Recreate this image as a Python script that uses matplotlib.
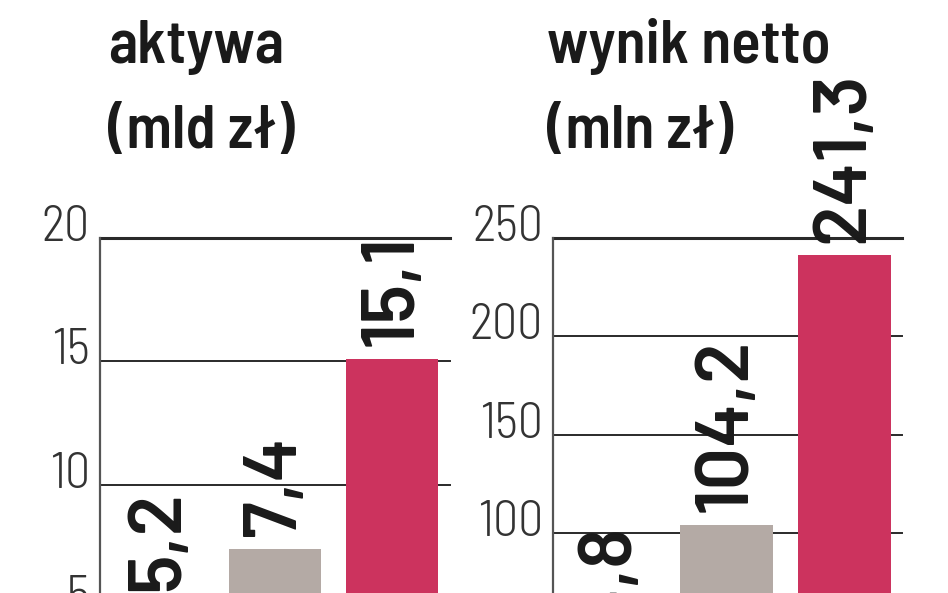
import matplotlib
matplotlib.use("Agg")
import matplotlib.pyplot as plt
import matplotlib.transforms as mtransforms

# ---- data ----
categories = ["2006", "2007", "2008"]
aktywa = [5.2, 7.4, 15.1]            # mld zł
wynik_netto = [24.8, 104.2, 241.3]   # mln zł
aktywa_ticks = [0, 5, 10, 15, 20]
wynik_ticks = [0, 50, 100, 150, 200, 250]
titles = [("aktywa", "(mld zł)"), ("wynik netto", "(mln zł)")]

FONT = ["Barlow Semi Condensed", "DejaVu Sans"]
LABEL_FONT = ["Barlow", "DejaVu Sans"]
GRAY = "#b4aaa5"
RED = "#cc335e"
W, H = 948, 593

fig = plt.figure(figsize=(W / 100, H / 100), dpi=100)
fig.patch.set_facecolor("white")


def fx(px):
    return px / W


def fy(py):
    return (H - py) / H


def make_panel(rect, values, ticks, xlim, title, title_x):
    ax = fig.add_axes(rect)
    x = list(range(len(values)))
    colors = [GRAY, GRAY, RED]
    ax.bar(x, values, width=0.79, color=colors, zorder=2)
    ax.set_xlim(*xlim)
    ax.set_ylim(ticks[0], ticks[-1])
    ax.set_xticks(x)
    ax.set_xticklabels(categories)
    ax.set_yticks(ticks)
    ax.set_yticklabels([])
    ax.tick_params(left=False, bottom=False)
    for s in ["top", "right", "bottom"]:
        ax.spines[s].set_visible(False)
    ax.spines["left"].set_color("#555555")
    ax.spines["left"].set_linewidth(1.6)
    # gridlines
    for t in ticks[1:]:
        lw = 2.2 if t == ticks[-1] else 1.4
        ax.axhline(t, color="#2a2a2a", lw=lw, zorder=1, clip_on=False)
    # tick labels
    off = mtransforms.ScaledTranslation(-10 / 100, 10 / 100, fig.dpi_scale_trans)
    trans = mtransforms.blended_transform_factory(ax.transAxes, ax.transData) + off
    for t in ticks:
        ax.text(0, t, f"{t}", transform=trans, ha="right", va="center",
                fontsize=36, fontweight=300, family=FONT, color="#333333",
                clip_on=False)
    # value labels
    for xi, v in zip(x, values):
        ax.annotate(f"{v:.1f}".replace(".", ","), (xi, v), xytext=(0, 9),
                    textcoords="offset points", rotation=90, ha="center",
                    va="bottom", fontsize=54, fontweight=600, family=LABEL_FONT,
                    color="#1a1a1a", zorder=3, annotation_clip=False)
    fig.text(fx(title_x), fy(63), title[0], fontsize=44, fontweight=600,
             family=FONT, color="#1a1a1a", va="baseline", ha="left")
    fig.text(fx(title_x), fy(148), title[1], fontsize=44, fontweight=600,
             family=FONT, color="#1a1a1a", va="baseline", ha="left")
    return ax


# left panel: y=20 at px 238, y=0 at px 731.5
make_panel([fx(100), fy(731.5), fx(450) - fx(100), (731.5 - 238) / H],
           aktywa, aktywa_ticks, (-0.5, 2.5), titles[0], 108)
# right panel: y=250 at px 238, y=0 at px 730
make_panel([fx(553), fy(730), fx(902) - fx(553), (730 - 238) / H],
           wynik_netto, wynik_ticks, (-0.47, 2.49), titles[1], 547)

fig.savefig("out.png", dpi=100)
